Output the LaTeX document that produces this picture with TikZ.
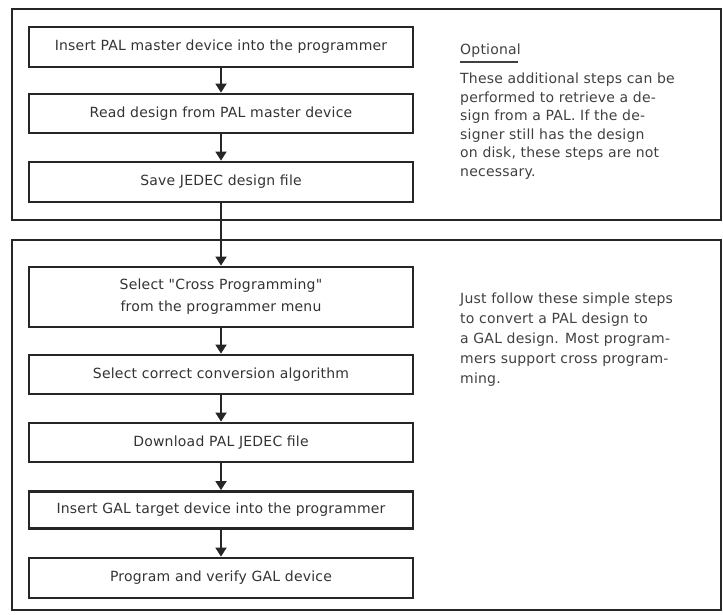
\documentclass[tikz,border=0pt]{standalone}
\usepackage{fontspec}
\setmainfont{DejaVu Sans}[LetterSpace=1.5, Ligatures=TeXOff]
\usetikzlibrary{arrows.meta}

\begin{document}
\begin{tikzpicture}[
  x=1pt, y=-1pt,
  frame/.style={line width=2.8pt, black!85},
  stepbox/.style={draw=black!85, line width=2.8pt, minimum width=384pt,
    inner sep=0pt, align=center, text=black!80,
    font=\fontsize{14}{22}\selectfont},
  flow/.style={line width=1.8pt, black!85, -{Triangle[width=11pt,length=9pt]}},
  note/.style={anchor=north west, align=left, inner sep=0pt, text=black!75}
]
  \useasboundingbox (0,0) rectangle (723,614);

  % Draw the two outer frames
  \draw[frame] (12,9) rectangle (721,220);
  \draw[frame] (12,240) rectangle (721,610);

  % Optional steps (upper frame)
  \node[stepbox, minimum height=40pt] (insertpal) at (221,47) {Insert PAL master device into the programmer};
  \node[stepbox, minimum height=39pt] (readpal) at (221,113.5) {Read design from PAL master device};
  \node[stepbox, minimum height=40pt] (savejedec) at (221,182) {Save JEDEC design file};

  % Cross programming steps (lower frame)
  \node[stepbox, minimum height=60pt] (selectcross) at (221,297) {Select "Cross Programming"\\from the programmer menu};
  \node[stepbox, minimum height=39pt] (selectalgo) at (221,374.5) {Select correct conversion algorithm};
  \node[stepbox, minimum height=39pt] (download) at (221,442.5) {Download PAL JEDEC file};
  \node[stepbox, minimum height=37pt] (insertgal) at (221,510) {Insert GAL target device into the programmer};
  \node[stepbox, minimum height=40pt] (program) at (221,578) {Program and verify GAL device};

  % Connect the steps
  \draw[flow] (insertpal) -- (readpal);
  \draw[flow] (readpal) -- (savejedec);
  \draw[flow] (savejedec) -- (selectcross);
  \draw[flow] (selectcross) -- (selectalgo);
  \draw[flow] (selectalgo) -- (download);
  \draw[flow] (download) -- (insertgal);
  \draw[flow] (insertgal) -- (program);

  % Side notes
  \node[note, font=\fontsize{14}{17}\selectfont] (optional) at (460,44) {Optional};
  \draw[line width=1.4pt, black!75] (optional.south west) ++(0,4) -- ++(58,0);
  \node[note, font=\fontsize{14}{18.5}\selectfont] (optnote) at (460,73)
    {These additional steps can be\\performed to retrieve a de-\\sign from a PAL. If the de-\\signer still has the design\\on disk, these steps are not\\necessary.};
  \node[note, font=\fontsize{14}{19.8}\selectfont] (crossnote) at (460,293)
    {Just follow these simple steps\\to convert a PAL design to\\a GAL design. Most program-\\mers support cross program-\\ming.};

\end{tikzpicture}
\end{document}
